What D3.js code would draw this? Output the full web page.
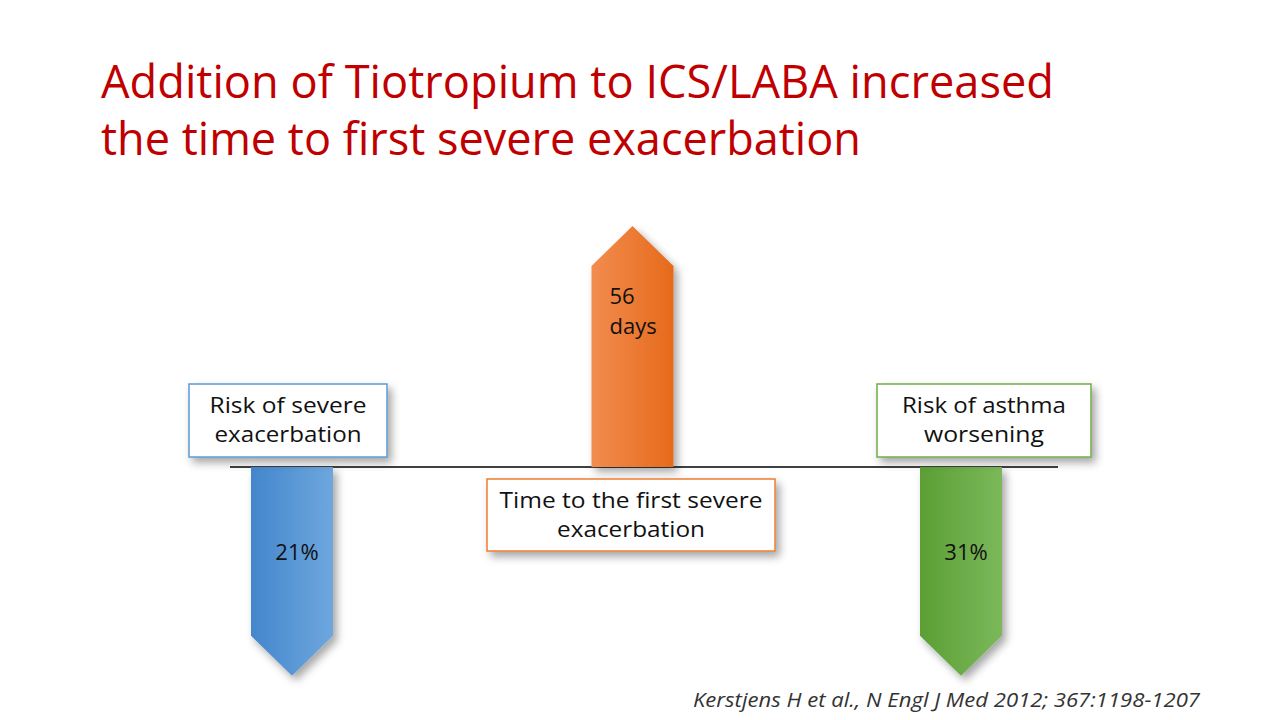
<!DOCTYPE html>
<html>
<head>
<meta charset="utf-8">
<script src="https://cdn.jsdelivr.net/npm/d3@7"></script>
<style>
  body { margin: 0; background: #fff; }
  svg { display: block; font-family: "Open Sans", "Noto Sans", sans-serif; }
</style>
</head>
<body>
<script>
// outcomes of the trial, one arrow each
var categories = ["risk", "time", "worsening"];
var boxLabels = [["Risk of severe", "exacerbation"], ["Time to the first severe", "exacerbation"], ["Risk of asthma", "worsening"]];
var valueLabels = [["21%"], ["56", "days"], ["31%"]];
var direction = [-1, 1, -1];   // down = reduction, up = increase
var reach = [0.87, 1, 0.87];
var colors = [["#4486cc", "#6ea7de"], ["#f28c4f", "#e66a1b"], ["#5b9f34", "#7bb85a"]];
var borders = ["#5b9bd5", "#ed7d31", "#70ad47"];

var titleLines = ["Addition of Tiotropium to ICS/LABA increased", "the time to first severe exacerbation"];
var citation = "Kerstjens H et al., N Engl J Med 2012; 367:1198-1207";

var W = 1280, H = 720;
var svg = d3.select("body").append("svg").attr("width", W).attr("height", H);

var defs = svg.append("defs");
var f = defs.append("filter").attr("id", "shadow")
  .attr("x", "-30%").attr("y", "-30%").attr("width", "170%").attr("height", "170%");
f.append("feDropShadow").attr("dx", 4).attr("dy", 5).attr("stdDeviation", 4)
  .attr("flood-color", "#000").attr("flood-opacity", 0.35);

colors.forEach(function(c, i) {
  var g = defs.append("linearGradient").attr("id", "grad" + i)
    .attr("x1", "0%").attr("x2", "100%").attr("y1", "0%").attr("y2", "0%");
  g.append("stop").attr("offset", "0%").attr("stop-color", c[0]);
  g.append("stop").attr("offset", "100%").attr("stop-color", c[1]);
});

// scales: x = which arrow, y = signed reach from the baseline
var x = d3.scaleOrdinal().domain(categories).range([292, 632.5, 961]);
var y = d3.scaleLinear().domain([-1, 0, 1]).range([707, 467, 226]);

var arrowW = 82, head = 40;

// title
svg.append("g").selectAll("text").data(titleLines).enter().append("text")
  .attr("x", 101)
  .attr("y", function(d, i) { return 98 + i * 57; })
  .attr("fill", "#c00000")
  .attr("font-size", 46)
  .attr("textLength", function(d, i) { return i == 0 ? 953 : 760; })
  .attr("lengthAdjust", "spacingAndGlyphs")
  .text(function(d) { return d; });

// baseline
svg.append("line").attr("x1", 230).attr("x2", 1058)
  .attr("y1", y(0)).attr("y2", y(0))
  .attr("stroke", "#000").attr("stroke-width", 1.5);

// arrows
var arrow = function(d, i) {
  var cx = x(d), half = arrowW / 2;
  var tip = y(direction[i] * reach[i]);
  var base = y(0);
  var s = direction[i] > 0 ? 1 : -1;
  var neck = tip + s * head;
  return "M" + (cx - half) + "," + base +
    "L" + (cx - half) + "," + neck +
    "L" + cx + "," + tip +
    "L" + (cx + half) + "," + neck +
    "L" + (cx + half) + "," + base + "Z";
};

svg.append("g").selectAll("path").data(categories).enter().append("path")
  .attr("d", arrow)
  .attr("fill", function(d, i) { return "url(#grad" + i + ")"; })
  .attr("filter", "url(#shadow)");

// boxes
var boxes = [
  { x0: 189, x1: 387, y0: 384, y1: 457 },
  { x0: 487, x1: 775, y0: 479, y1: 551 },
  { x0: 877, x1: 1091, y0: 384, y1: 457 }
];
var textWidths = [[157, 147], [263, 148], [164, 120]];

var bg = svg.append("g").selectAll("g").data(categories).enter().append("g");
bg.append("rect")
  .attr("x", function(d, i) { return boxes[i].x0; })
  .attr("y", function(d, i) { return boxes[i].y0; })
  .attr("width", function(d, i) { return boxes[i].x1 - boxes[i].x0; })
  .attr("height", function(d, i) { return boxes[i].y1 - boxes[i].y0; })
  .attr("fill", "#fff")
  .attr("stroke", function(d, i) { return borders[i]; })
  .attr("stroke-width", 1.5)
  .attr("filter", "url(#shadow)");

bg.each(function(d, i) {
  var b = boxes[i];
  d3.select(this).selectAll("text").data(boxLabels[i]).enter().append("text")
    .attr("x", (b.x0 + b.x1) / 2)
    .attr("y", function(t, j) { return b.y0 + 29 + j * 29; })
    .attr("text-anchor", "middle")
    .attr("font-size", 21)
    .attr("fill", "#111")
    .attr("textLength", function(t, j) { return textWidths[i][j]; })
    .attr("lengthAdjust", "spacingAndGlyphs")
    .text(function(t) { return t; });
});

// values inside arrows
svg.append("g").selectAll("g").data(categories).enter().append("g")
  .each(function(d, i) {
    var up = direction[i] > 0;
    d3.select(this).selectAll("text").data(valueLabels[i]).enter().append("text")
      .attr("x", up ? x(d) - 23 : x(d) + 5)
      .attr("y", function(t, j) { return up ? 304 + j * 30 : 560; })
      .attr("text-anchor", up ? "start" : "middle")
      .attr("font-size", 22)
      .attr("fill", "#111")
      .text(function(t) { return t; });
  });

// source
svg.append("text")
  .attr("x", 693).attr("y", 707)
  .attr("font-size", 20)
  .attr("font-style", "italic")
  .attr("fill", "#333")
  .attr("textLength", 507)
  .attr("lengthAdjust", "spacingAndGlyphs")
  .text(citation);
</script>
</body>
</html>
